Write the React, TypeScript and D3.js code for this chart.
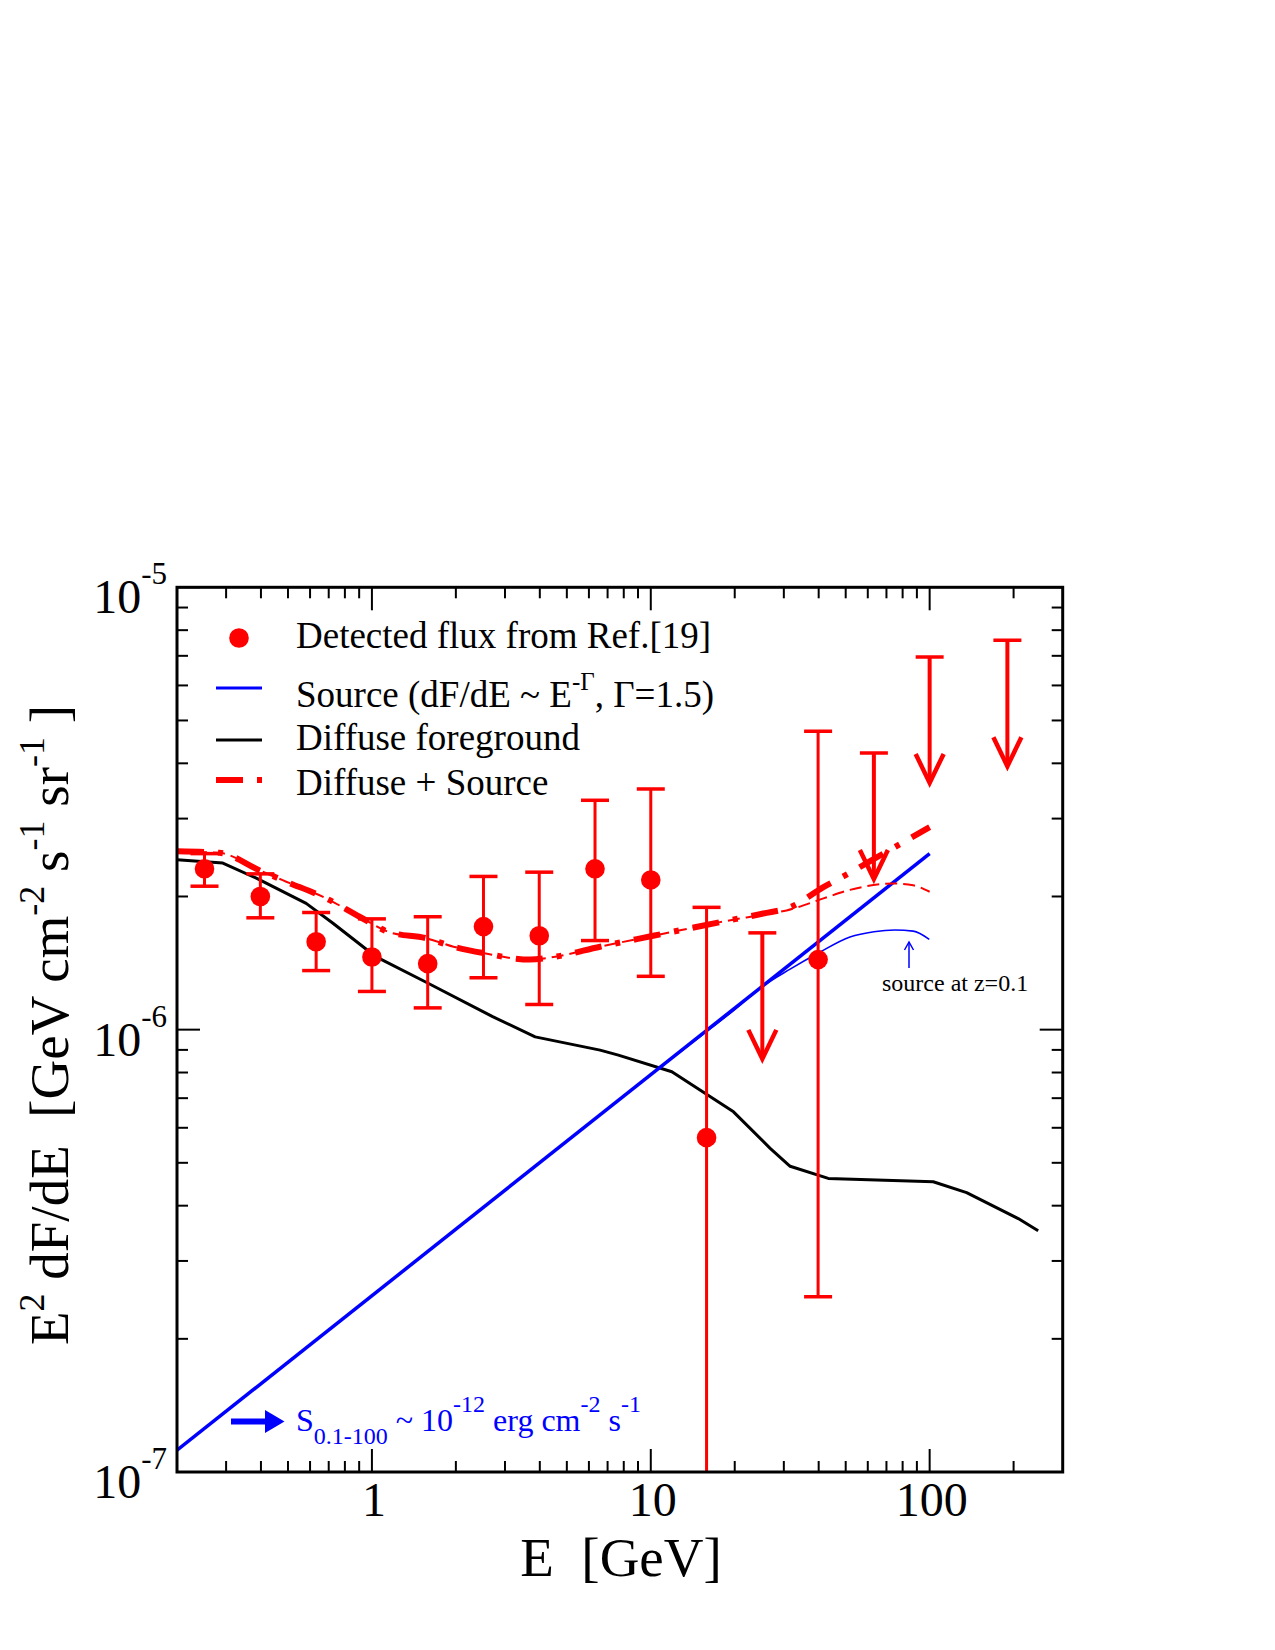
import React from "react";
import * as d3 from "d3";

// ---- data ----
const dataE = [0.251, 0.398, 0.631, 1.0, 1.585, 2.512, 3.981, 6.31, 10.0, 15.85, 39.81];
const dataF = [2.31e-6, 2.0e-6, 1.58e-6, 1.46e-6, 1.41e-6, 1.71e-6, 1.63e-6, 2.31e-6, 2.18e-6, 5.7e-7, 1.44e-6];
const dataLo = [2.11e-6, 1.79e-6, 1.36e-6, 1.22e-6, 1.12e-6, 1.31e-6, 1.14e-6, 1.59e-6, 1.32e-6, 5e-8, 2.49e-7];
const dataHi = [2.5e-6, 2.25e-6, 1.84e-6, 1.78e-6, 1.8e-6, 2.22e-6, 2.27e-6, 3.3e-6, 3.5e-6, 1.89e-6, 4.73e-6];

const ulE = [25.12, 63.1, 100, 190];
const ulF = [1.655e-6, 4.22e-6, 6.96e-6, 7.59e-6];

const diffE = [0.2, 0.292, 0.385, 0.581, 0.725, 1.036, 1.565, 2.71, 3.85, 6.58, 7.65, 11.9, 19.8, 26.8, 31.6, 43.3, 103, 135.7, 207.8, 245];
const diffF = [2.42e-6, 2.38e-6, 2.2e-6, 1.93e-6, 1.74e-6, 1.46e-6, 1.28e-6, 1.07e-6, 9.63e-7, 8.99e-7, 8.76e-7, 8.03e-7, 6.52e-7, 5.39e-7, 4.91e-7, 4.61e-7, 4.53e-7, 4.28e-7, 3.74e-7, 3.51e-7];

const srcE = [0.2, 100];
const srcF = [1.12e-7, 2.5e-6];

const absE = [10, 15.85, 20, 24.6, 31.6, 39.9, 51.8, 63.1, 75.1, 87.3, 99.7];
const absF = [7.9e-7, 9.9e-7, 1.11e-6, 1.24e-6, 1.37e-6, 1.49e-6, 1.62e-6, 1.665e-6, 1.68e-6, 1.67e-6, 1.6e-6];

const sumE = [0.2, 0.284, 0.396, 0.493, 0.686, 0.903, 1.157, 1.565, 1.961, 2.51, 3.69, 4.48, 6.58, 10.2, 13.5, 17.7, 25.3, 31.6, 41.6, 49, 68.2, 100];
const sumF = [2.53e-6, 2.51e-6, 2.29e-6, 2.16e-6, 1.98e-6, 1.8e-6, 1.66e-6, 1.61e-6, 1.54e-6, 1.49e-6, 1.44e-6, 1.46e-6, 1.54e-6, 1.63e-6, 1.69e-6, 1.75e-6, 1.83e-6, 1.89e-6, 2.1e-6, 2.22e-6, 2.5e-6, 2.87e-6];

const sumAbsE = [0.2, 0.284, 0.396, 0.493, 0.686, 0.903, 1.157, 1.565, 1.961, 2.51, 3.69, 4.48, 6.58, 10.2, 13.5, 17.7, 25.3, 30.7, 41.6, 51.8, 74, 87.3, 100];
const sumAbsF = [2.53e-6, 2.51e-6, 2.29e-6, 2.16e-6, 1.98e-6, 1.8e-6, 1.66e-6, 1.61e-6, 1.54e-6, 1.49e-6, 1.44e-6, 1.46e-6, 1.54e-6, 1.63e-6, 1.69e-6, 1.75e-6, 1.82e-6, 1.86e-6, 1.98e-6, 2.07e-6, 2.14e-6, 2.12e-6, 2.05e-6];

const xMajor = [1, 10, 100];
const xMajorLabels = ["1", "10", "100"];
const yMajor = [1e-7, 1e-6, 1e-5];
const yMajorExp = ["-7", "-6", "-5"];

const legendLabels = ["Detected flux from Ref.[19]", "Source", "Diffuse foreground", "Diffuse + Source"];

const FONT = "'Liberation Serif', 'Times New Roman', serif";
const RED = "#ff0000";
const BLUE = "#0000ff";

export default function App() {
  const L = 177, R = 1062.7, T = 587.3, B = 1472;
  const x = d3.scaleLog().domain([0.2, 300]).range([L, R]);
  const y = d3.scaleLog().domain([1e-7, 1e-5]).range([B, T]);

  const lin = (E: number[], F: number[]) =>
    d3.line<number>().x((_, i) => x(E[i])).y((_, i) => y(F[i])).curve(d3.curveLinear)(E.map((_, i) => i)) || "";
  const smooth = (E: number[], F: number[]) =>
    d3.line<number>().x((_, i) => x(E[i])).y((_, i) => y(F[i])).curve(d3.curveMonotoneX)(E.map((_, i) => i)) || "";

  const xMinor: number[] = [];
  [0.1, 1, 10, 100].forEach((d) => {
    for (let k = 2; k <= 9; k++) {
      const v = d * k;
      if (v > 0.2 && v < 300) xMinor.push(v);
    }
  });
  const yMinor: number[] = [];
  [1e-7, 1e-6].forEach((d) => {
    for (let k = 2; k <= 9; k++) yMinor.push(d * k);
  });

  const MAJ = 23, MIN = 11;
  const capW = 14;
  const arrowLen = 126;

  return (
    <svg width={1275} height={1650} style={{ position: "absolute", left: 0, top: 0, background: "#fff" }} fontFamily={FONT}>
      <rect x={0} y={0} width={1275} height={1650} fill="#fff" />
      <defs>
        <clipPath id="plotclip">
          <rect x={L} y={T} width={R - L} height={B - T} />
        </clipPath>
      </defs>

      {/* ticks */}
      <g stroke="#000" strokeWidth={2}>
        {xMajor.map((v) => (
          <g key={"xM" + v}>
            <line x1={x(v)} x2={x(v)} y1={B} y2={B - MAJ} />
            <line x1={x(v)} x2={x(v)} y1={T} y2={T + MAJ} />
          </g>
        ))}
        {xMinor.map((v) => (
          <g key={"xm" + v}>
            <line x1={x(v)} x2={x(v)} y1={B} y2={B - MIN} />
            <line x1={x(v)} x2={x(v)} y1={T} y2={T + MIN} />
          </g>
        ))}
        {yMajor.map((v) => (
          <g key={"yM" + v}>
            <line x1={L} x2={L + MAJ} y1={y(v)} y2={y(v)} />
            <line x1={R} x2={R - MAJ} y1={y(v)} y2={y(v)} />
          </g>
        ))}
        {yMinor.map((v) => (
          <g key={"ym" + v}>
            <line x1={L} x2={L + MIN} y1={y(v)} y2={y(v)} />
            <line x1={R} x2={R - MIN} y1={y(v)} y2={y(v)} />
          </g>
        ))}
      </g>

      {/* curves */}
      <g clipPath="url(#plotclip)" fill="none">
        <path d={lin(diffE, diffF)} stroke="#000" strokeWidth={3} strokeLinejoin="round" />
        <path d={lin(srcE, srcF)} stroke={BLUE} strokeWidth={3.5} />
        <path d={smooth(absE, absF)} stroke={BLUE} strokeWidth={1.6} />
        <path d={smooth(sumAbsE, sumAbsF)} stroke={RED} strokeWidth={2} strokeDasharray="12,6" />
        <path d={smooth(sumE, sumF)} stroke={RED} strokeWidth={6} strokeDasharray="27,14,5,14" />
      </g>

      {/* data points with error bars */}
      <g clipPath="url(#plotclip)" stroke={RED} fill={RED}>
        {dataE.map((e, i) => {
          const cx = x(e);
          return (
            <g key={"d" + i}>
              <line x1={cx} x2={cx} y1={y(dataLo[i])} y2={y(dataHi[i])} strokeWidth={3} />
              <line x1={cx - capW} x2={cx + capW} y1={y(dataLo[i])} y2={y(dataLo[i])} strokeWidth={3.5} />
              <line x1={cx - capW} x2={cx + capW} y1={y(dataHi[i])} y2={y(dataHi[i])} strokeWidth={3.5} />
              <circle cx={cx} cy={y(dataF[i])} r={9.8} stroke="none" />
            </g>
          );
        })}
        {ulE.map((e, i) => {
          const cx = x(e);
          const cy = y(ulF[i]);
          const tip = cy + arrowLen;
          return (
            <g key={"u" + i} fill="none">
              <line x1={cx - capW} x2={cx + capW} y1={cy} y2={cy} strokeWidth={3.5} />
              <line x1={cx} x2={cx} y1={cy} y2={tip - 2} strokeWidth={4} />
              <polyline points={`${cx - 14},${tip - 29} ${cx},${tip} ${cx + 14},${tip - 29}`} strokeWidth={4.5} />
            </g>
          );
        })}
      </g>

      {/* frame */}
      <rect x={L} y={T} width={R - L} height={B - T} fill="none" stroke="#000" strokeWidth={3} />

      {/* x tick labels */}
      <g fontSize={48} textAnchor="middle" fill="#000">
        {xMajor.map((v, i) => (
          <text key={"xl" + v} x={x(v) + 2} y={1516}>{xMajorLabels[i]}</text>
        ))}
      </g>
      {/* y tick labels */}
      <g fill="#000">
        {yMajor.map((v, i) => (
          <text key={"yl" + v} x={167} y={y(v) + 26} textAnchor="end" fontSize={48}>
            10<tspan fontSize={31} dy={-29}>{yMajorExp[i]}</tspan>
          </text>
        ))}
      </g>

      {/* axis titles */}
      <text x={621} y={1576} fontSize={55} textAnchor="middle" fill="#000">E{"\u00A0\u00A0"}[GeV]</text>
      <text transform="translate(68,1025) rotate(-90)" fontSize={55} textAnchor="middle" fill="#000">
        E<tspan fontSize={36} dy={-24}>2</tspan>
        <tspan dy={24}> dF/dE{"\u00A0\u00A0"}[GeV cm</tspan>
        <tspan fontSize={36} dy={-24}>-2</tspan>
        <tspan dy={24}> s</tspan>
        <tspan fontSize={36} dy={-24}>-1</tspan>
        <tspan dy={24}> sr</tspan>
        <tspan fontSize={36} dy={-24}>-1</tspan>
        <tspan dy={24}> ]</tspan>
      </text>

      {/* legend */}
      <g fontSize={37} fill="#000">
        <circle cx={239} cy={638} r={9.8} fill={RED} />
        <text x={296} y={648}>{legendLabels[0]}</text>
        <line x1={216} x2={262} y1={688} y2={688} stroke={BLUE} strokeWidth={3} />
        <text x={296} y={707}>
          {legendLabels[1]} (dF/dE ~ E<tspan fontSize={25} dy={-17}>-Γ</tspan>
          <tspan dy={17}>, Γ=1.5)</tspan>
        </text>
        <line x1={216} x2={262} y1={740} y2={740} stroke="#000" strokeWidth={3} />
        <text x={296} y={750}>{legendLabels[2]}</text>
        <line x1={216} x2={262} y1={780} y2={780} stroke={RED} strokeWidth={6} strokeDasharray="27,14,5,14" />
        <text x={296} y={795}>{legendLabels[3]}</text>
      </g>

      {/* annotation: source at z=0.1 */}
      <g stroke={BLUE} strokeWidth={1.5} fill="none">
        <line x1={909} x2={909} y1={968} y2={942} />
        <polyline points="904.5,950 909,942 913.5,950" />
      </g>
      <text x={882} y={991} fontSize={24} fill="#000">source at z=0.1</text>

      {/* annotation: flux */}
      <line x1={231} x2={270} y1={1421.5} y2={1421.5} stroke={BLUE} strokeWidth={6} />
      <polygon points="265,1410 284.5,1421.5 265,1433" fill={BLUE} />
      <text x={296} y={1431} fontSize={32} fill={BLUE}>
        S<tspan fontSize={24} dy={13}>0.1-100</tspan>
        <tspan dy={-13}> ~ 10</tspan>
        <tspan fontSize={24} dy={-19}>-12</tspan>
        <tspan dy={19}> erg cm</tspan>
        <tspan fontSize={24} dy={-19}>-2</tspan>
        <tspan dy={19}> s</tspan>
        <tspan fontSize={24} dy={-19}>-1</tspan>
      </text>
    </svg>
  );
}
